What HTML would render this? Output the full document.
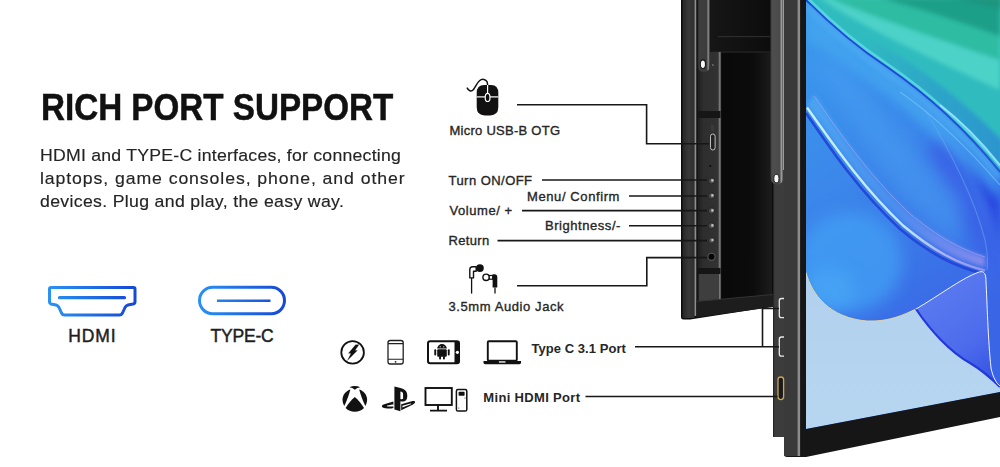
<!DOCTYPE html>
<html><head><meta charset="utf-8">
<style>
html,body{margin:0;padding:0;background:#fff;}
body{width:1000px;height:467px;overflow:hidden;position:relative;font-family:"Liberation Sans",sans-serif;}
.t{position:absolute;white-space:nowrap;line-height:1;color:#262626;}
#title{left:41px;top:90px;font-size:36px;font-weight:700;color:#111;-webkit-text-stroke:0.5px #111;transform-origin:0 0;transform:scaleX(0.922);}
.p{font-size:17px;color:#242424;-webkit-text-stroke:0.15px #242424;transform-origin:0 0;left:41px;transform:scaleX(1.04);}
.lbl{font-size:17.5px;font-weight:400;color:#1e1e1e;-webkit-text-stroke:0.45px #1e1e1e;top:327.5px;}
.s{font-size:13px;font-weight:400;color:#262626;-webkit-text-stroke:0.35px #262626;transform-origin:0 0;}
svg{position:absolute;left:0;top:0;}
</style></head><body>
<svg width="1000" height="467" viewBox="0 0 1000 467">
<defs>
<linearGradient id="gb" x1="48" y1="0" x2="137" y2="0" gradientUnits="userSpaceOnUse">
<stop offset="0" stop-color="#2a93f2"/><stop offset="1" stop-color="#1646d6"/>
</linearGradient>
<linearGradient id="gc" x1="197" y1="0" x2="287" y2="0" gradientUnits="userSpaceOnUse">
<stop offset="0" stop-color="#2a93f2"/><stop offset="1" stop-color="#1646d6"/>
</linearGradient>
</defs>
<!-- HDMI icon -->
<path d="M51,287.5 H133.5 Q135,287.5 135,289 V302 Q135,303.5 133,304 L128,305 Q126,305.5 125,307.5 L122.5,313 Q121.5,315 119.5,315 H64.5 Q62.5,315 61.5,313 L59,307.5 Q58,305.5 56,305 L51,304 Q49.5,303.5 49.5,302 V289 Q49.5,287.5 51,287.5 Z" fill="none" stroke="url(#gb)" stroke-width="3" stroke-linejoin="round"/>
<line x1="59.5" y1="297.7" x2="124.5" y2="297.7" stroke="url(#gb)" stroke-width="3.2" stroke-linecap="round"/>
<!-- TYPE-C icon -->
<rect x="199.5" y="287.3" width="85" height="26.5" rx="13.2" fill="none" stroke="url(#gc)" stroke-width="3"/>
<line x1="217" y1="300.8" x2="270.5" y2="300.8" stroke="url(#gc)" stroke-width="2.6"/>
</svg>


<svg width="1000" height="467" viewBox="0 0 1000 467">
<defs>
<linearGradient id="blk" x1="0" y1="0" x2="1" y2="0">
<stop offset="0" stop-color="#070707"/><stop offset="0.7" stop-color="#0c0c0c"/><stop offset="1" stop-color="#1c1c1c"/>
</linearGradient>
<linearGradient id="armg" x1="0" y1="0" x2="1" y2="0">
<stop offset="0" stop-color="#1e1e1e"/><stop offset="0.12" stop-color="#3e3e3e"/><stop offset="0.72" stop-color="#3c3c3c"/><stop offset="0.86" stop-color="#8a8a8a"/><stop offset="1" stop-color="#2a2a2a"/>
</linearGradient>
<linearGradient id="armg2" x1="0" y1="0" x2="1" y2="0">
<stop offset="0" stop-color="#2a2a2a"/><stop offset="0.12" stop-color="#4e4e4e"/><stop offset="0.7" stop-color="#4a4a4a"/><stop offset="0.85" stop-color="#9a9a9a"/><stop offset="1" stop-color="#3a3a3a"/>
</linearGradient>
<linearGradient id="frameg" x1="0" y1="0" x2="1" y2="0">
<stop offset="0" stop-color="#262626"/><stop offset="0.5" stop-color="#383838"/><stop offset="1" stop-color="#2e2e2e"/>
</linearGradient>
<linearGradient id="stripg" x1="0" y1="0" x2="1" y2="0">
<stop offset="0" stop-color="#1e1e1e"/><stop offset="0.25" stop-color="#2e2e2e"/><stop offset="0.86" stop-color="#323232"/><stop offset="0.91" stop-color="#7c7c7c"/><stop offset="0.96" stop-color="#5a5a5a"/><stop offset="1" stop-color="#161616"/>
</linearGradient>
<linearGradient id="topg" x1="0" y1="0" x2="1" y2="0">
<stop offset="0" stop-color="#161616"/><stop offset="1" stop-color="#0c0c0c"/>
</linearGradient>
<linearGradient id="scr" x1="0" y1="0" x2="0" y2="1">
<stop offset="0" stop-color="#3692e8"/><stop offset="0.6" stop-color="#3c7fe6"/><stop offset="1" stop-color="#3f7ae6"/>
</linearGradient>
<linearGradient id="teal" x1="0" y1="1" x2="1" y2="0">
<stop offset="0" stop-color="#4ad3c4"/><stop offset="0.5" stop-color="#2fbfa8"/><stop offset="1" stop-color="#1f9f88"/>
</linearGradient>
</defs>
<!-- back monitor -->
<path d="M681,0 H776 V306 L690,319.5 H683.5 Q681,319.5 681,317 Z" fill="#0b0b0b"/>
<rect x="710" y="0" width="62" height="306" fill="url(#blk)"/>
<rect x="710" y="0" width="62" height="52" fill="url(#topg)"/>
<rect x="718" y="36" width="52" height="1.2" fill="#2c2c2c"/>
<rect x="712" y="51" width="58" height="2" fill="#1c1c1c"/>
<rect x="682.5" y="0" width="12" height="318" fill="url(#frameg)"/>
<rect x="694.5" y="0" width="1.8" height="316" fill="#8e8e8e"/>
<!-- side strip with buttons -->
<rect x="697.5" y="52" width="24" height="250" fill="url(#stripg)"/>
<rect x="697.5" y="111" width="23" height="7" fill="#161616"/>
<rect x="697.5" y="268" width="23" height="6" fill="#151515"/>
<rect x="699" y="274" width="20" height="27" fill="#3e3e3e"/>
<path d="M696.5,301.5 L773,294.5 V307 L696.5,317.6 Z" fill="#1d1d1d"/>
<path d="M696.5,301.5 L773,294.5" stroke="#333" stroke-width="1"/>
<!-- top arm -->
<path d="M697.5,0 H710 V64 Q710,72 703.7,72 Q697.5,72 697.5,64 Z" fill="url(#armg)"/>
<ellipse cx="702.9" cy="64.2" rx="2.6" ry="4.3" fill="#f6f6f6" stroke="#141414" stroke-width="1.1"/>
<circle cx="712.9" cy="65.1" r="1" fill="#6a6a6a"/>
<!-- micro usb port -->
<rect x="710.5" y="134" width="4.6" height="16" rx="2.3" fill="#222" stroke="#cfcfcf" stroke-width="0.9"/>
<rect x="711" y="125" width="3" height="6" fill="#3a3a3a"/>
<circle cx="710.3" cy="166" r="1" fill="#080808"/>
<!-- buttons -->
<g fill="#4e4e4e" stroke="#1a1a1a" stroke-width="0.6">
<circle cx="711.6" cy="180.8" r="3.1"/><circle cx="711.6" cy="195.8" r="3.1"/><circle cx="711.6" cy="210.8" r="3.1"/><circle cx="711.6" cy="225.8" r="3.1"/><circle cx="711.6" cy="240.4" r="3.1"/>
</g>
<g fill="#bdbdbd">
<circle cx="712.4" cy="180.4" r="1.3"/><circle cx="712.4" cy="195.4" r="1.3"/><circle cx="712.4" cy="210.4" r="1.3"/><circle cx="712.4" cy="225.4" r="1.3"/><circle cx="712.4" cy="240" r="1.3"/>
</g>
<circle cx="711.5" cy="256.8" r="3.6" fill="#050505" stroke="#555" stroke-width="1.1"/>
<!-- front monitor body -->
<path d="M784,0 H1000 V417 L806,457 H787 Q784,457 784,454 Z" fill="#161616"/>
<rect x="784" y="0" width="13.5" height="456" fill="#3a3a3a"/>
<rect x="797.5" y="0" width="2.6" height="456" fill="#8c8c8c"/>
<!-- port strip -->
<rect x="773" y="170" width="11.5" height="267" fill="#3c3c3c"/>
<rect x="773" y="170" width="1.2" height="267" fill="#262626"/>
<!-- right arm -->
<path d="M770.3,0 H783.5 V176 Q783.5,184.5 777,184.5 Q770.3,184.5 770.3,176 Z" fill="url(#armg2)"/>
<ellipse cx="776.4" cy="178.6" rx="2.6" ry="4.2" fill="#f8f8f8" stroke="#1a1a1a" stroke-width="1"/>
<!-- ports -->
<path d="M784,298.5 H781.5 Q779.3,298.5 779.3,300.7 V315.5 Q779.3,317.7 781.5,317.7 H784" fill="none" stroke="#e8e8e8" stroke-width="1.3"/>
<path d="M784,337 H781.5 Q779.3,337 779.3,339.2 V354 Q779.3,356.2 781.5,356.2 H784" fill="none" stroke="#e8e8e8" stroke-width="1.3"/>
<rect x="778" y="377" width="5.6" height="22.6" rx="2.8" fill="#1a1a1a" stroke="#c9a45a" stroke-width="1.3"/>
<!-- screen -->
<defs>
<clipPath id="scrclip"><path d="M806,0 H1000 V392 L806,429 Z"/></clipPath>
<filter id="bl2" x="-20%" y="-20%" width="140%" height="140%"><feGaussianBlur stdDeviation="2"/></filter>
<filter id="bl3" x="-20%" y="-20%" width="140%" height="140%"><feGaussianBlur stdDeviation="3"/></filter>
<filter id="bl5" x="-30%" y="-30%" width="160%" height="160%"><feGaussianBlur stdDeviation="5"/></filter>
<filter id="bl8" x="-30%" y="-30%" width="160%" height="160%"><feGaussianBlur stdDeviation="8"/></filter>
<filter id="bl1" x="-20%" y="-20%" width="140%" height="140%"><feGaussianBlur stdDeviation="0.7"/></filter>
<linearGradient id="scrbase" x1="806" y1="0" x2="1000" y2="300" gradientUnits="userSpaceOnUse">
<stop offset="0" stop-color="#3a9cec"/><stop offset="0.5" stop-color="#3b86ea"/><stop offset="1" stop-color="#3a66e6"/>
</linearGradient>
<linearGradient id="tealg" x1="850" y1="120" x2="1000" y2="0" gradientUnits="userSpaceOnUse">
<stop offset="0" stop-color="#55d6cc"/><stop offset="0.45" stop-color="#45cdbd"/><stop offset="1" stop-color="#33bfa5"/>
</linearGradient>
<linearGradient id="lb" x1="0" y1="0" x2="0" y2="1">
<stop offset="0" stop-color="#b0d0ee"/><stop offset="1" stop-color="#b6d6f0"/>
</linearGradient>
<linearGradient id="deep" x1="930" y1="290" x2="1000" y2="385" gradientUnits="userSpaceOnUse">
<stop offset="0" stop-color="#5a7af0"/><stop offset="0.55" stop-color="#4d6cec"/><stop offset="1" stop-color="#3050e2"/>
</linearGradient>
<linearGradient id="btg" x1="855" y1="0" x2="1000" y2="0" gradientUnits="userSpaceOnUse">
<stop offset="0" stop-color="#2a92d0" stop-opacity="0"/><stop offset="0.5" stop-color="#2a92d0" stop-opacity="0.5"/><stop offset="1" stop-color="#2a8ed2" stop-opacity="0.85"/>
</linearGradient>
<linearGradient id="s1g" x1="806" y1="0" x2="985" y2="0" gradientUnits="userSpaceOnUse">
<stop offset="0" stop-color="#c6f0ff"/><stop offset="0.55" stop-color="#c0e8ff"/><stop offset="0.8" stop-color="#c8b8f4" stop-opacity="0.8"/><stop offset="1" stop-color="#d0b8f0" stop-opacity="0.5"/>
</linearGradient>
<linearGradient id="ribg" x1="806" y1="0" x2="985" y2="0" gradientUnits="userSpaceOnUse">
<stop offset="0" stop-color="#5ab4f6"/><stop offset="0.5" stop-color="#5a9af2"/><stop offset="0.8" stop-color="#9a98f2"/><stop offset="1" stop-color="#c0a8f0"/>
</linearGradient>
</defs>
<g clip-path="url(#scrclip)">
<rect x="806" y="0" width="194" height="430" fill="url(#scrbase)"/>
<!-- right darker blue area -->
<path d="M950,135 C972,165 990,205 1000,250 V172 C985,158 968,145 950,135 Z" fill="#2642de" filter="url(#bl5)"/>
<path d="M925,150 C950,190 975,240 1000,290 V240 C985,200 965,165 945,135 Z" fill="#3a5ee6" opacity="0.8" filter="url(#bl8)"/>
<!-- lighter blue band under L1 -->
<path d="M806,2 C860,46 930,96 1000,166 L1000,200 C935,130 870,80 806,40 Z" fill="#45a6f0" opacity="0.75" filter="url(#bl5)"/>
<!-- lighter area right of streak -->
<path d="M806,60 C840,100 870,150 905,200 C930,225 950,240 960,250 L960,200 C920,160 880,110 840,60 Z" fill="#4a9ef2" opacity="0.5" filter="url(#bl8)"/>
<!-- subtle curved line upper right -->
<path d="M925,110 C950,150 975,200 985,240 C988,255 988,262 987,270" fill="none" stroke="#6aa8f6" stroke-width="1.2" opacity="0.5" filter="url(#bl1)"/>
<!-- lower blob -->
<ellipse cx="850" cy="262" rx="52" ry="50" fill="#42a0f4" opacity="0.75" filter="url(#bl8)"/>
<ellipse cx="830" cy="290" rx="25" ry="22" fill="#48aaf6" opacity="0.6" filter="url(#bl8)"/>
<!-- teal region -->
<path d="M806,-2 H1000 V172 C962,125 925,93 887,67 C858,48 832,26 806,0 Z" fill="#30bcbf"/>
<path d="M820,-2 C845,16 900,45 1000,90 V-2 Z" fill="#4ed2c8" filter="url(#bl2)"/>
<path d="M830,-2 C870,16 935,38 1000,60 V-2 Z" fill="#2dbca3" filter="url(#bl2)"/>
<path d="M880,-2 C920,8 960,22 1000,36 V-2 Z" fill="#1e9f89" filter="url(#bl2)"/>
<path d="M950,-2 C968,2 985,6 1000,9 V-2 Z" fill="#1a9580" filter="url(#bl2)"/>
<path d="M855,40 C868,50 878,58 887,65 C925,91 962,123 1002,172 V140 C962,100 925,72 887,48 C875,42 865,38 855,33 Z" fill="url(#btg)" filter="url(#bl2)"/>
<!-- light cyan highlight above line -->
<path d="M807,-2.5 C833,23.5 859,45.5 888,64.5 C926,90.5 963,122.5 1002,168.5" fill="none" stroke="#58d4e2" stroke-width="2.6" filter="url(#bl1)"/>
<path d="M940,105 C960,120 980,140 1000,165" fill="none" stroke="#a8e8ff" stroke-width="1.6" opacity="0.8" filter="url(#bl1)"/>
<!-- dark blue line -->
<path d="M806,0 C832,26 858,48 887,67 C925,93 962,125 1000,172" fill="none" stroke="#1c3ad6" stroke-width="1.8"/>
<!-- light streak under line -->
<path d="M806,6 C832,32 858,54 887,73 C925,99 962,131 1000,178" fill="none" stroke="#4eaaf2" stroke-width="5" opacity="0.8" filter="url(#bl2)"/>
<path d="M900,92 C935,116 965,145 1000,185" fill="none" stroke="#8ad0fa" stroke-width="1.2" opacity="0.5" filter="url(#bl1)"/>
<!-- diagonal streak S1 -->
<path d="M807,104 C832,139 861,182 903,222 C933,247 957,260 985,267 L985,257 C960,249 938,237 909,213 C868,175 840,132 815,95 Z" fill="url(#ribg)" opacity="0.55" filter="url(#bl2)"/>
<path d="M814,96 C839,132 868,174 909,213 C938,237 960,249 985,257" fill="none" stroke="#b0a8f0" stroke-width="1" opacity="0.6" filter="url(#bl1)"/>
<path d="M806,113 C830,148 858,190 900,229 C930,254 955,267 985,274" fill="none" stroke="#2448da" stroke-width="2.6" filter="url(#bl1)"/>
<path d="M807,107.5 C832,142.5 861,185.5 903,225.5 C933,250.5 957,263.5 985,270.5" fill="none" stroke="url(#s1g)" stroke-width="2.4" filter="url(#bl1)"/>
<!-- light blue bottom region -->
<path d="M806,272.5 C812,295 830,318 867,321 C890,322 905,314 916,309 C930,330 950,352 970,363 C985,372 995,382 1000,387 V392 L806,429 Z" fill="url(#lb)"/>
<path d="M806,272.5 C812,295 830,318 867,321 C890,322 905,314 916,309" fill="none" stroke="#e8d8a0" stroke-width="1" opacity="0.9"/>
<!-- deep blue curl -->
<path d="M916,309 C940,295 962,278 979,272 C984.5,270.5 986,274 986,282 C987,300 988,340 991,368 C993,378 997,384 1000,386 V387 C995,382 985,372 970,363 C950,352 930,330 916,309 Z" fill="url(#deep)"/>
<path d="M916,309 C930,330 950,352 970,363 C985,372 995,382 1000,387" fill="none" stroke="#2238d8" stroke-width="2.2" filter="url(#bl1)"/>
<path d="M916,309 C940,295 962,278 979,272 C984.5,270.5 986,274 986,282 C987,300 988,340 991,368 C993,378 997,384 1000,386" fill="none" stroke="#f0f4ff" stroke-width="1"/>
</g>
</svg>

<div id="title" class="t">RICH PORT SUPPORT</div>
<div class="t p" style="top:147px;left:39.5px;letter-spacing:0.22px;">HDMI and TYPE-C interfaces, for connecting</div>
<div class="t p" style="top:170px;left:39.5px;letter-spacing:0.87px;">laptops, game consoles, phone, and other</div>
<div class="t p" style="top:193px;left:39.5px;letter-spacing:0.31px;">devices. Plug and play, the easy way.</div>
<div class="t lbl" style="left:68.3px;top:327.5px;letter-spacing:0.9px;">HDMI</div>
<div class="t lbl" style="left:210.5px;top:327.5px;letter-spacing:-0.2px;">TYPE-C</div>


<svg width="1000" height="467" viewBox="0 0 1000 467">
<g fill="none" stroke="#171717" stroke-width="1.6">
<path d="M517,104.8 H646.6 V143.8 H709"/>
<path d="M542,180 H707"/>
<path d="M629,196 H707"/>
<path d="M522,210.6 H707"/>
<path d="M629,225.8 H707"/>
<path d="M497.5,240.6 H707"/>
<path d="M517,285.8 H646.8 V257.6 H707"/>
<path d="M635,346.8 H779"/>
<path d="M762.5,346.8 V308.5 H779"/>
<path d="M585.5,396.5 H777.5"/>
</g>
<!-- mouse -->
<path d="M484.2,85 H491.2 Q498.3,85 498.3,93 V107 Q498.3,115.4 490.2,115.4 H484.8 Q476.7,115.4 476.7,107 V93 Q476.7,85 484.2,85 Z" fill="#111"/>
<path d="M476.7,96.9 H498.3" stroke="#fff" stroke-width="1.2"/>
<path d="M487.6,84 V93" stroke="#fff" stroke-width="1.2"/>
<ellipse cx="487.6" cy="97.4" rx="2.4" ry="4.1" fill="#111" stroke="#fff" stroke-width="1.2"/>
<path d="M466.9,87.6 C468.5,90.5 471,92.5 473.5,89.5 C475.5,87 477,83 479.5,80.8 C482,78.5 486,79 487.2,82 L487.6,85" fill="none" stroke="#111" stroke-width="1.5"/>
<!-- earphones -->
<path d="M469.8,277.9 V269.6 Q469.8,266.8 472.6,266.8 H476.2 V271.3 H473.5 V277.9 Z" fill="#fff" stroke="#111" stroke-width="1.4" stroke-linejoin="round"/>
<circle cx="479.9" cy="268.1" r="3.9" fill="#111"/>
<path d="M471.6,278 V293.6" stroke="#111" stroke-width="1.3"/>
<circle cx="486.1" cy="277.3" r="3.2" fill="#fff" stroke="#111" stroke-width="1.4"/>
<rect x="489.3" y="275.5" width="3.4" height="3.7" fill="#fff" stroke="#111" stroke-width="1.2"/>
<path d="M492.6,274.3 H494.5 Q497.3,274.3 497.3,277.3 V287.6 H492.6 Z" fill="#111"/>
<path d="M495,287.5 V293.6" stroke="#111" stroke-width="1.3"/>
<!-- lightning circle -->
<circle cx="352.6" cy="352.4" r="11.3" fill="none" stroke="#111" stroke-width="1.8"/>
<path d="M355.6,344.8 L358.9,344.8 L354.9,350.5 L357.3,350.5 L347.6,360.3 L351.1,353.3 L348.5,353.3 Z" fill="#111" stroke="#111" stroke-width="0.3" stroke-linejoin="round"/>
<!-- phone -->
<rect x="388" y="340.5" width="15.2" height="23.5" rx="2.2" fill="none" stroke="#222" stroke-width="1.3"/>
<path d="M388,343.6 H403.2 M388,359.3 H403.2" stroke="#222" stroke-width="1.1"/>
<circle cx="395.6" cy="361.8" r="0.9" fill="#222"/>
<!-- android tablet -->
<rect x="428" y="341.3" width="31" height="22" rx="2.2" fill="none" stroke="#111" stroke-width="2"/>
<rect x="454.5" y="341.3" width="4.8" height="22" fill="#111"/>
<circle cx="457.4" cy="352.3" r="1.6" fill="#fff"/>
<path d="M437.2,348.5 A4.8,4.4 0 0 1 446.8,348.5 Z" fill="#111"/>
<rect x="437.2" y="349.3" width="9.6" height="7.5" rx="1" fill="#111"/>
<rect x="434.3" y="349.3" width="1.9" height="6.2" rx="0.9" fill="#111"/>
<rect x="447.8" y="349.3" width="1.9" height="6.2" rx="0.9" fill="#111"/>
<rect x="439.1" y="356" width="1.9" height="3.5" rx="0.9" fill="#111"/>
<rect x="443" y="356" width="1.9" height="3.5" rx="0.9" fill="#111"/>
<circle cx="440.2" cy="346.8" r="0.6" fill="#fff"/><circle cx="443.8" cy="346.8" r="0.6" fill="#fff"/>
<!-- laptop -->
<rect x="487.8" y="341.3" width="29" height="19.5" rx="1" fill="none" stroke="#111" stroke-width="1.9"/>
<path d="M483.5,361 H521 V362.6 Q521,364.2 519.4,364.2 H485.1 Q483.5,364.2 483.5,362.6 Z" fill="#111"/>
<rect x="498.9" y="361.3" width="6.6" height="1.3" fill="#fff"/>
<!-- xbox -->
<path d="M349.4,387.3 A12.3,12.3 0 0 1 360.3,387.3 Q357,387.7 354.8,389.8 Q352.6,387.7 349.4,387.3 Z" fill="#111"/>
<path d="M350.4,389.6 C346,390.8 342.6,395 342.5,399.5 C342.5,402 343.2,404 344.3,405.9 C346.9,400.5 349.2,394.5 350.4,389.6 Z" fill="#111"/>
<path d="M359.2,389.6 C363.6,390.8 367,395 367.1,399.5 C367.1,402 366.4,404 365.3,405.9 C362.7,400.5 360.4,394.5 359.2,389.6 Z" fill="#111"/>
<path d="M345.6,408 C348,404 351.5,399.5 354.8,397 C358.1,399.5 361.6,404 364,408 C361.5,410.5 358.5,411.7 354.8,411.7 C351.1,411.7 348.1,410.5 345.6,408 Z" fill="#111"/>
<!-- playstation -->
<path fill-rule="evenodd" d="M394.4,386.6 L394.4,409.4 L400.4,411.2 L400.4,401.2 C404.5,402.4 407.3,400.6 407.3,396 C407.3,390.6 404.2,389 399.5,387.8 Z M400.4,391.4 C402,391.4 403.1,392.2 403.1,394.2 L403.1,398.8 C402.2,399.4 401.3,399.4 400.4,399 Z" fill="#111"/>
<path fill-rule="evenodd" d="M401.2,404.2 L411.8,401.2 C415.6,400.3 416.3,402.8 413,404.4 L401.2,410.2 Z M402.4,407.6 L410.8,404.2 C411.5,403.8 411.2,403.3 410.4,403.5 L402.4,405.8 Z" fill="#111"/>
<path fill-rule="evenodd" d="M393.4,401.4 L385,404 C380.5,405.3 381,407.6 385.5,408.3 C388.5,408.8 391.2,408.6 393.4,408 Z M393.4,404.3 L387.5,405.6 C386.5,405.9 386.6,406.5 387.6,406.6 L393.4,406.3 Z" fill="#111"/>
<!-- monitor + PC -->
<rect x="425.5" y="388" width="26.3" height="17" fill="none" stroke="#111" stroke-width="1.9"/>
<path d="M438,405 V410 M430,410.6 H447" stroke="#111" stroke-width="1.9"/>
<rect x="456.4" y="389.6" width="10.4" height="21.4" rx="1.6" fill="none" stroke="#111" stroke-width="1.5"/>
<rect x="458.6" y="391.8" width="6" height="4" rx="0.8" fill="#111"/>
<circle cx="465" cy="398" r="0.5" fill="#111"/><circle cx="458.8" cy="408" r="0.5" fill="#111"/>
</svg>
<div class="t s" style="left:449.5px;top:123.6px;letter-spacing:0.26px;">Micro USB-B OTG</div>
<div class="t s" style="left:448.5px;top:173.5px;letter-spacing:0.46px;">Turn ON/OFF</div>
<div class="t s" style="left:527px;top:189.8px;letter-spacing:0.6px;">Menu/ Confirm</div>
<div class="t s" style="left:449.5px;top:203.6px;letter-spacing:0.55px;">Volume/ +</div>
<div class="t s" style="left:545px;top:219px;letter-spacing:0.55px;">Brightness/-</div>
<div class="t s" style="left:448.5px;top:233.5px;letter-spacing:0.32px;">Return</div>
<div class="t s" style="left:448.5px;top:299.8px;letter-spacing:0.59px;">3.5mm Audio Jack</div>
<div class="t s" style="left:531.5px;top:342.4px;letter-spacing:0.05px;font-weight:700;-webkit-text-stroke:0px;">Type C 3.1 Port</div>
<div class="t s" style="left:483.3px;top:391.2px;letter-spacing:0.33px;font-weight:700;-webkit-text-stroke:0px;">Mini HDMI Port</div>

</body></html>
